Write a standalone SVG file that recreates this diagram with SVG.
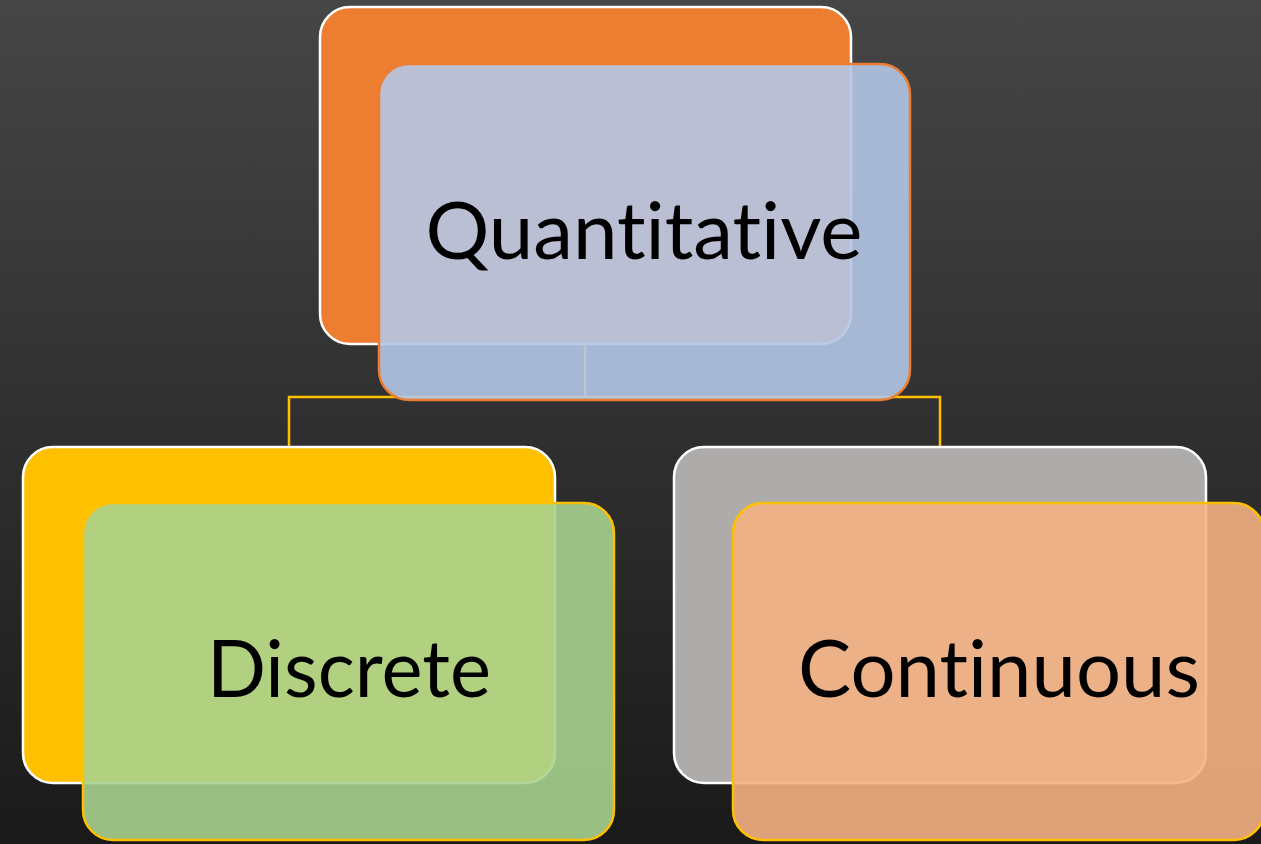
<svg xmlns="http://www.w3.org/2000/svg" width="1261" height="844" viewBox="0 0 1261 844">
  <defs>
    <linearGradient id="bg" x1="0" y1="0" x2="0" y2="1">
      <stop offset="0" stop-color="#464646"/>
      <stop offset="1" stop-color="#1a1a1a"/>
    </linearGradient>
    <style>
      .back { stroke: #ffffff; stroke-width: 2.5; }
      .front { fill-opacity: 0.9; stroke-width: 2.5; }
      .label { font-family: Lato, "Open Sans", "Liberation Sans", sans-serif; font-size: 80px; fill: #000000; text-anchor: middle; font-variant-ligatures: none; font-feature-settings: "liga" 0, "clig" 0; }
      .link { fill: none; stroke: #FFC000; stroke-width: 2.5; }
    </style>
  </defs>

  <rect x="0" y="0" width="1261" height="844" fill="url(#bg)"/>

  <!-- hierarchy links -->
  <g id="connectors">
    <path class="link" d="M585,344 V397"/>
    <path class="link" d="M289,447 V397 H940 V447"/>
  </g>

  <!-- root -->
  <g id="node-quantitative">
    <rect class="back" x="320" y="7" width="531" height="337" rx="30" fill="#ED7D31"/>
    <rect class="front" x="379" y="64" width="531" height="336" rx="30" fill="#B4C7E7" stroke="#ED7D31"/>
    <text class="label" x="644" y="259" textLength="437" lengthAdjust="spacingAndGlyphs">Quantitative</text>
  </g>

  <!-- left child -->
  <g id="node-discrete">
    <rect class="back" x="23" y="447" width="532" height="336" rx="30" fill="#FFC000"/>
    <rect class="front" x="83" y="503" width="531" height="337" rx="30" fill="#A9D18E" stroke="#FFC000"/>
    <text class="label" x="349" y="697" textLength="284" lengthAdjust="spacingAndGlyphs">Discrete</text>
  </g>

  <!-- right child -->
  <g id="node-continuous">
    <rect class="back" x="674" y="447" width="532" height="336" rx="30" fill="#AEABAB"/>
    <rect class="front" x="733" y="503" width="531" height="337" rx="30" fill="#F4B183" stroke="#FFC000"/>
    <text class="label" x="999" y="697" textLength="402" lengthAdjust="spacingAndGlyphs">Continuous</text>
  </g>
</svg>
